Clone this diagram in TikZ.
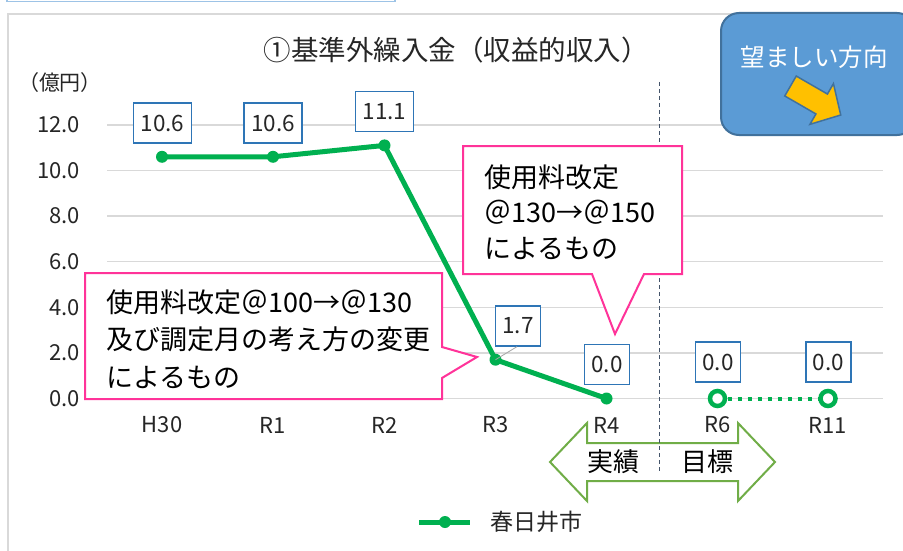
\documentclass[tikz,border=0pt]{standalone}
\usepackage{fontspec}
\setmainfont{Noto Sans CJK JP}
\definecolor{grid}{HTML}{D9D9D9}
\definecolor{sgreen}{HTML}{00B050}
\definecolor{lblue}{HTML}{2E75B6}
\definecolor{cpink}{HTML}{FF3399}
\definecolor{bfill}{HTML}{5B9BD5}
\definecolor{bdraw}{HTML}{41719C}
\definecolor{ayel}{HTML}{FFC000}
\definecolor{agreen}{HTML}{70AD47}
\definecolor{vline}{HTML}{44546A}
\definecolor{txt}{HTML}{262626}
\definecolor{topblue}{HTML}{9DC3E6}
\newcommand\myfs[1]{\fontsize{#1pt}{#1pt}\selectfont}
\begin{document}
\begin{tikzpicture}[x=1pt,y=-1pt,
  gridline/.style={draw=grid,line width=1.5pt},
  ylab/.style={anchor=east,inner sep=0pt,text=txt,font=\myfs{22}},
  catlab/.style={inner sep=0pt,text=txt,font=\myfs{22}},
  vallab/.style={draw=lblue,line width=1.3pt,fill=white,inner xsep=7pt,inner ysep=0pt,minimum height=40pt,text=txt,font=\myfs{22.5}},
  pt/.style={circle,fill=sgreen,inner sep=0pt,minimum size=12pt},
  hpt/.style={circle,draw=sgreen,line width=4.5pt,fill=white,inner sep=0pt,minimum size=15pt},
  callout/.style={draw=cpink,line width=2pt,fill=white},
  ctext/.style={anchor=west,inner sep=0pt,align=left,text=black}]
\useasboundingbox (0,0) rectangle (903,551);
\clip (0,0) rectangle (903,551);
\fill[white] (0,0) rectangle (903,551);
% top-left frame remnant
\draw[topblue,line width=1.5pt] (7,-5) rectangle (395,1.5);
% chart frame
\draw[grid,line width=1.5pt] (8,14) rectangle (930,580);
% title
\node[text=txt,font=\myfs{27.5},inner sep=0pt] (title) at (456,50) {①基準外繰入金（収益的収入）};
\node[text=txt,font=\myfs{21},inner sep=0pt] (unit) at (60,83) {（億円）};
% gridlines and y labels
\foreach \v/\lab in {0/0.0,2/2.0,4/4.0,6/6.0,8/8.0,10/10.0,12/12.0}{
  \coordinate (gl\v) at (107,{398.5-22.8*\v});
  \coordinate (gr\v) at (883,{398.5-22.8*\v});
  \draw[gridline] (gl\v) -- (gr\v);
  \node[ylab] (yl\v) at (80,{398.5-22.8*\v}) {\lab};
}
% vertical dashed divider
\coordinate (dtop) at (659.3,82);
\coordinate (dbot) at (659.3,473);
% double arrow
\draw[agreen,line width=2pt,fill=white,line join=miter]
  (550,462) -- (587,423) -- (587,443) -- (738,443) -- (738,423) -- (775,462)
  -- (738,501) -- (738,481) -- (587,481) -- (587,501) -- cycle;
\draw[vline,line width=1.2pt,dash pattern=on 4pt off 3pt] (dtop) -- (dbot);
\node[font=\myfs{26},inner sep=0pt,text=black] (jisseki) at (613,462) {実績};
\node[font=\myfs{26},inner sep=0pt,text=black] (mokuhyo) at (707,462) {目標};
% categories
\foreach \n/\x in {H30/162,R1/273,R2/384.5,R3/495.5,R4/606.5,R6/717.5,R11/828}{
  \node[catlab] (c\n) at (\x,425) {\n};
}
% data points
\coordinate (pH30) at (162,156.8);
\coordinate (pR1) at (273,156.8);
\coordinate (pR2) at (384.5,145.4);
\coordinate (pR3) at (495.5,359.7);
\coordinate (pR4) at (606.5,398.5);
\coordinate (pR6) at (717.5,398.5);
\coordinate (pR11) at (828,398.5);
\draw[sgreen,line width=5pt,line join=round] (pH30) -- (pR1) -- (pR2) -- (pR3) -- (pR4);
\draw[sgreen,line width=4pt,dash pattern=on 4pt off 6pt] (pR6) -- (pR11);
\foreach \p in {H30,R1,R2,R3,R4}{ \node[pt] (m\p) at (p\p) {}; }
\node[hpt] (mR6) at (pR6) {};
\node[hpt] (mR11) at (pR11) {};
% data labels
\node[vallab] (vH30) at (162.5,123) {10.6};
\node[vallab] (vR1) at (273,123) {10.6};
\node[vallab] (vR2) at (384.5,111.5) {11.1};
\node[vallab] (vR3) at (518,326) {1.7};
\draw[gray!70,line width=0.8pt] (vR3.south) ++(-1,0) coordinate (ldr) (ldr) -- (mR3.center);
\node[vallab] (vR4) at (607,364.5) {0.0};
\node[vallab] (vR6) at (718,362) {0.0};
\node[vallab] (vR11) at (828.5,362) {0.0};
% callout 1
\draw[callout,line join=miter] (85,273) -- (442,273) -- (442,347) -- (477,357) -- (442,378) -- (442,399) -- (85,399) -- cycle;
\node[ctext,font={\fontsize{27pt}{37.5pt}\selectfont}] (call1) at (106,339) {使用料改定＠100→＠130\\及び調定月の考え方の変更\\によるもの};
% callout 2
\draw[callout,line join=miter] (463,146) -- (682,146) -- (682,274) -- (644,274) -- (615,334) -- (592,274) -- (463,274) -- cycle;
\node[ctext,font={\fontsize{27pt}{35.5pt}\selectfont}] (call2) at (484,212) {使用料改定\\＠130→＠150\\によるもの};
% desired direction box
\draw[fill=bfill,draw=bdraw,line width=2pt,rounded corners=18pt] (721,13) rectangle (915,135);
\node[text=white,font=\myfs{24.5},inner sep=0pt] (want) at (814,57) {望ましい方向};
\begin{scope}[shift={(790.5,86)},rotate=-30]
  \draw[fill=ayel,draw=bdraw,line width=1.5pt,line join=miter]
    (0,-11.5) -- (36,-11.5) -- (36,-23.5) -- (58,0) -- (36,23.5) -- (36,11.5) -- (0,11.5) -- cycle;
\end{scope}
% legend
\coordinate (lg1) at (419,522);
\coordinate (lg2) at (470,522);
\draw[sgreen,line width=5pt] (lg1) -- (lg2);
\node[pt] (lgm) at (445,522) {};
\node[anchor=west,inner sep=0pt,text=txt,font=\myfs{23}] (lgt) at (490,522) {春日井市};
\end{tikzpicture}
\end{document}
